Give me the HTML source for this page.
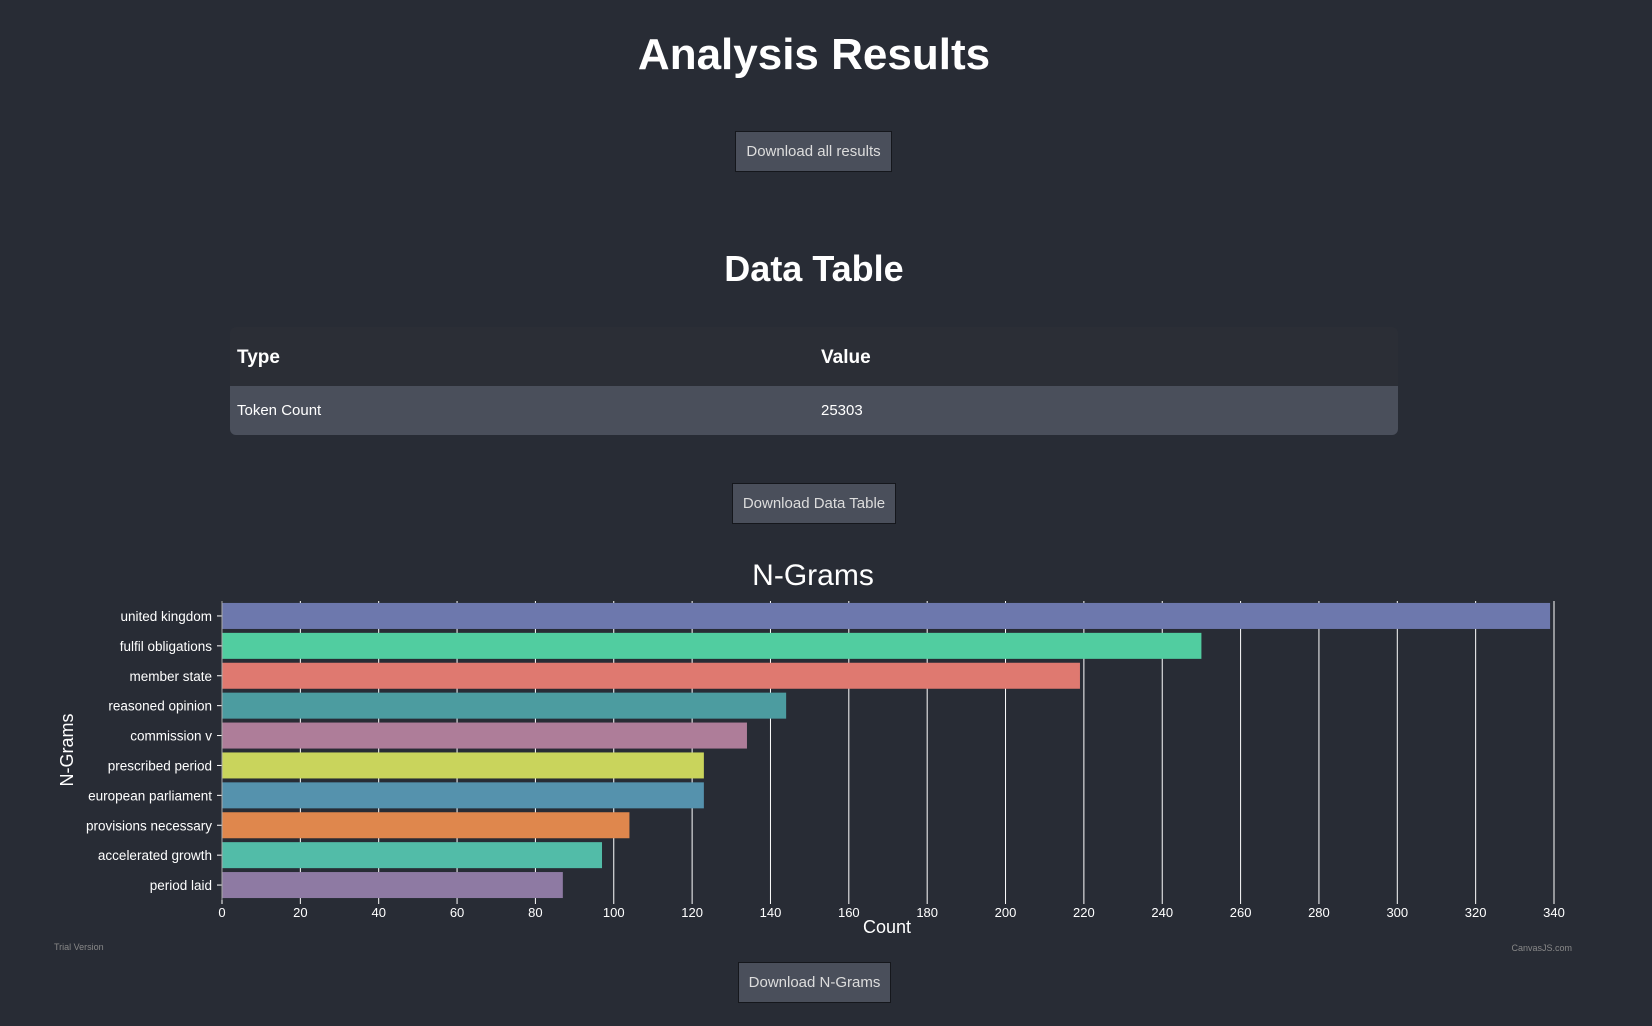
<!DOCTYPE html>
<html><head><meta charset="utf-8">
<style>
body{margin:0;width:1652px;height:1026px;background:#282c35;font-family:"Liberation Sans",sans-serif;color:#fff;position:relative;overflow:hidden}
.abs{position:absolute}
h1,h2{margin:0;font-weight:bold;text-align:center;position:absolute;left:0;width:1628px}
.btn{position:absolute;background:#4a4f5b;border:1px solid #15171c;color:#ddd;font-size:15px;display:flex;align-items:center;justify-content:center;box-sizing:border-box}
</style></head><body>
<h1 style="top:30px;font-size:44px">Analysis Results</h1>
<div class="btn" style="left:735px;top:131px;width:157px;height:41px">Download all results</div>
<h2 style="top:248px;font-size:36px">Data Table</h2>
<div class="abs" style="left:230px;top:327px;width:1168px;height:108px;border-radius:6px;overflow:hidden">
 <div style="height:59px;background:#2b2e36;position:relative;font-weight:bold;font-size:19px">
  <span class="abs" style="left:7px;top:20px">Type</span><span class="abs" style="left:591px;top:20px">Value</span></div>
 <div style="height:49px;background:#4a4f5b;position:relative;font-size:15px">
  <span class="abs" style="left:7px;top:16px">Token Count</span><span class="abs" style="left:591px;top:16px">25303</span></div>
</div>
<div class="btn" style="left:732px;top:483px;width:164px;height:41px">Download Data Table</div>
<svg class="abs" style="left:0;top:540px" width="1652" height="420" id="chart"></svg>
<div class="btn" style="left:738px;top:962px;width:153px;height:41px">Download N-Grams</div>
<script>
const categories=["united kingdom","fulfil obligations","member state","reasoned opinion","commission v","prescribed period","european parliament","provisions necessary","accelerated growth","period laid"];
const values=[339,250,219,144,134,123,123,104,97,87];
const colors=["#6d78ad","#51cda0","#df7970","#4c9ca0","#ae7d99","#c9d45c","#5592ad","#df874d","#52bca8","#8e7aa3"];
const ticks=[0,20,40,60,80,100,120,140,160,180,200,220,240,260,280,300,320,340];
const svg=document.getElementById('chart');
const NS="http://www.w3.org/2000/svg";
const OY=540,x0=222,x1=1554,yTop=601-OY,yBot=900-OY,maxV=340;
const X=v=>x0+(x1-x0)*v/maxV;
const band=(yBot-yTop)/categories.length;
function mk(t,a){const e=document.createElementNS(NS,t);for(const k in a)e.setAttribute(k,a[k]);svg.appendChild(e);return e;}
let t=mk('text',{x:813,y:585-OY,'text-anchor':'middle','font-size':30,fill:'#fff','font-family':'Liberation Sans, sans-serif'});t.textContent='N-Grams';

ticks.forEach(v=>{
 let g=mk('line',{x1:X(v),x2:X(v),y1:yTop,y2:yBot+4,stroke:'#fff','stroke-width':1});
 
 let l=mk('text',{x:X(v),y:yBot+17,'text-anchor':'middle','font-size':13,fill:'#fff'});l.textContent=v;
 
});
categories.forEach((c,i)=>{
 const yc=yTop+band*i+band/2;
 let r=mk('rect',{x:x0,y:yc-13,width:X(values[i])-x0,height:26,fill:colors[i]});
 
 mk('line',{x1:x0-5,x2:x0,y1:yc,y2:yc,stroke:'#fff'});
 let l=mk('text',{x:x0-10,y:yc+5,'text-anchor':'end','font-size':13.5,fill:'#fff'});l.textContent=c;
 
});
mk('line',{x1:x0,x2:x0,y1:yTop,y2:yBot,stroke:'#aaa'});
let xt=mk('text',{x:887,y:933-OY,'text-anchor':'middle','font-size':18,fill:'#fff'});xt.textContent='Count';

let yt=mk('text',{x:0,y:0,'text-anchor':'middle','font-size':18,fill:'#fff',transform:'translate(73,'+(750-OY)+') rotate(-90)'});yt.textContent='N-Grams';

let tv=mk('text',{x:54,y:950-OY,'font-size':9,fill:'#888'});tv.textContent='Trial Version';

let cj=mk('text',{x:1572,y:951-OY,'text-anchor':'end','font-size':9,fill:'#888'});cj.textContent='CanvasJS.com';

</script>
</body></html>
